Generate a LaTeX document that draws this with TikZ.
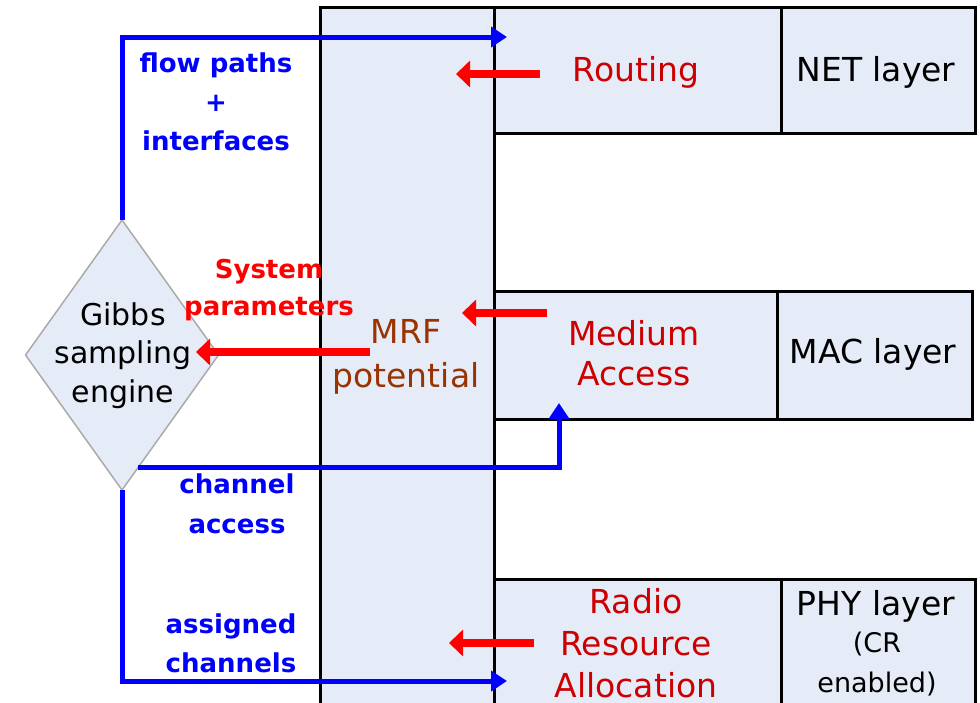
\documentclass[tikz,border=0pt]{standalone}
\usepackage{fontspec}
\setmainfont{DejaVu Sans}
\usetikzlibrary{arrows.meta,shapes.geometric,calc}
\definecolor{boxfill}{RGB}{230,236,247}
\definecolor{flowblue}{RGB}{0,0,255}
\definecolor{paramred}{RGB}{255,0,0}
\definecolor{taskred}{RGB}{204,0,0}
\definecolor{mrfbrown}{RGB}{153,51,0}
\definecolor{edgegray}{RGB}{170,170,170}
\newcommand{\fsz}[2]{\fontsize{#1}{#2}\selectfont}

\begin{document}
\begin{tikzpicture}[x=1pt,y=-1pt,
  blk/.style={draw=black, line width=3pt, fill=boxfill, inner sep=0pt, outer sep=0pt, anchor=north west},
  txt/.style={inner sep=0pt, outer sep=0pt, anchor=base, align=center},
  tasktxt/.style={txt, text=taskred, font=\fsz{33}{40}},
  layertxt/.style={txt, text=black, font=\fsz{33}{38}},
  flowtxt/.style={txt, text=flowblue, font=\bfseries\fsz{26}{39}},
  flowline/.style={draw=flowblue, line width=5pt, -{Triangle[length=16pt,width=20pt]}},
  paramarrow/.style={draw=paramred, line width=8pt, -{Triangle[length=14pt,width=26pt]}},
]
\useasboundingbox (0,0) rectangle (980,702);
\clip (0,0) rectangle (980,702);
\fill[white] (0,0) rectangle (980,702);

% MRF potential column and the three protocol layers
\node[blk, minimum width=174pt, minimum height=720pt] (mrf) at (320,7) {};
\node[blk, minimum width=287pt, minimum height=126pt] (routing) at (494,7) {};
\node[blk, minimum width=194pt, minimum height=126pt] (net) at (781,7) {};
\node[blk, minimum width=283pt, minimum height=128pt] (medium) at (494,291) {};
\node[blk, minimum width=195pt, minimum height=128pt] (mac) at (777,291) {};
\node[blk, minimum width=287pt, minimum height=140pt] (radio) at (494,579) {};
\node[blk, minimum width=194pt, minimum height=140pt] (phy) at (781,579) {};

% Gibbs sampling engine
\node[draw=edgegray, line width=1.5pt, fill=boxfill, shape=diamond,
      minimum width=193pt, minimum height=270pt, inner sep=0pt, outer sep=0pt] (gibbs) at (122,355) {};

% decisions fed back to the layers
\draw[flowline] (gibbs.north) |- ($(routing.north west)+(13,30)$);
\draw[flowline] (gibbs.south) |- ($(radio.north west)+(13,102)$);
\draw[flowline] ($(gibbs.south)!0.17!(gibbs.east)$) -| ($(medium.south west)+(65,-16)$);

% parameters collected by the MRF potential
\draw[paramarrow] ($(routing.west)+(46,4)$) -- ($(routing.west)+(-38,4)$);
\draw[paramarrow] ($(medium.west)+(53,-42)$) -- ($(medium.west)+(-32,-42)$);
\draw[paramarrow] ($(radio.north west)+(40,64)$) -- ($(radio.north west)+(-45,64)$);
\draw[paramarrow] ($(mrf.north west)+(50,345)$) -- ($(gibbs.center)+(74,-3)$);

% labels (a multi-line label sits on the baseline of its last line)
\node[tasktxt] (routinglbl) at (636,81) {Routing};
\node[layertxt] (netlbl) at (876,81) {NET layer};
\node[tasktxt] (mediumlbl) at (634,385) {Medium\\Access};
\node[layertxt] (maclbl) at (873,363) {MAC layer};
\node[tasktxt, font=\fsz{33}{42}] (radiolbl) at (636,697) {Radio\\Resource\\Allocation};
\node[layertxt] (phylbl) at (876,615) {PHY layer};
\node[txt, font=\fsz{27}{40}] (crlbl) at (877,692) {(CR\\enabled)};
\node[txt, text=mrfbrown, font=\fsz{33}{44}] (mrflbl) at (406,387) {MRF\\potential};
\node[txt, font=\fsz{30}{38.5}] (gibbslbl) at (123,402) {Gibbs\\sampling\\engine};
\node[txt, text=paramred, font=\bfseries\fsz{26}{37}] (syslbl) at (269,315) {System\\parameters};
\node[flowtxt] (flowlbl) at (216,150) {flow paths\\+\\interfaces};
\node[flowtxt, font=\bfseries\fsz{26}{40}] (chanlbl) at (237,533) {channel\\access};
\node[flowtxt] (assignlbl) at (231,672) {assigned\\channels};
\end{tikzpicture}
\end{document}
